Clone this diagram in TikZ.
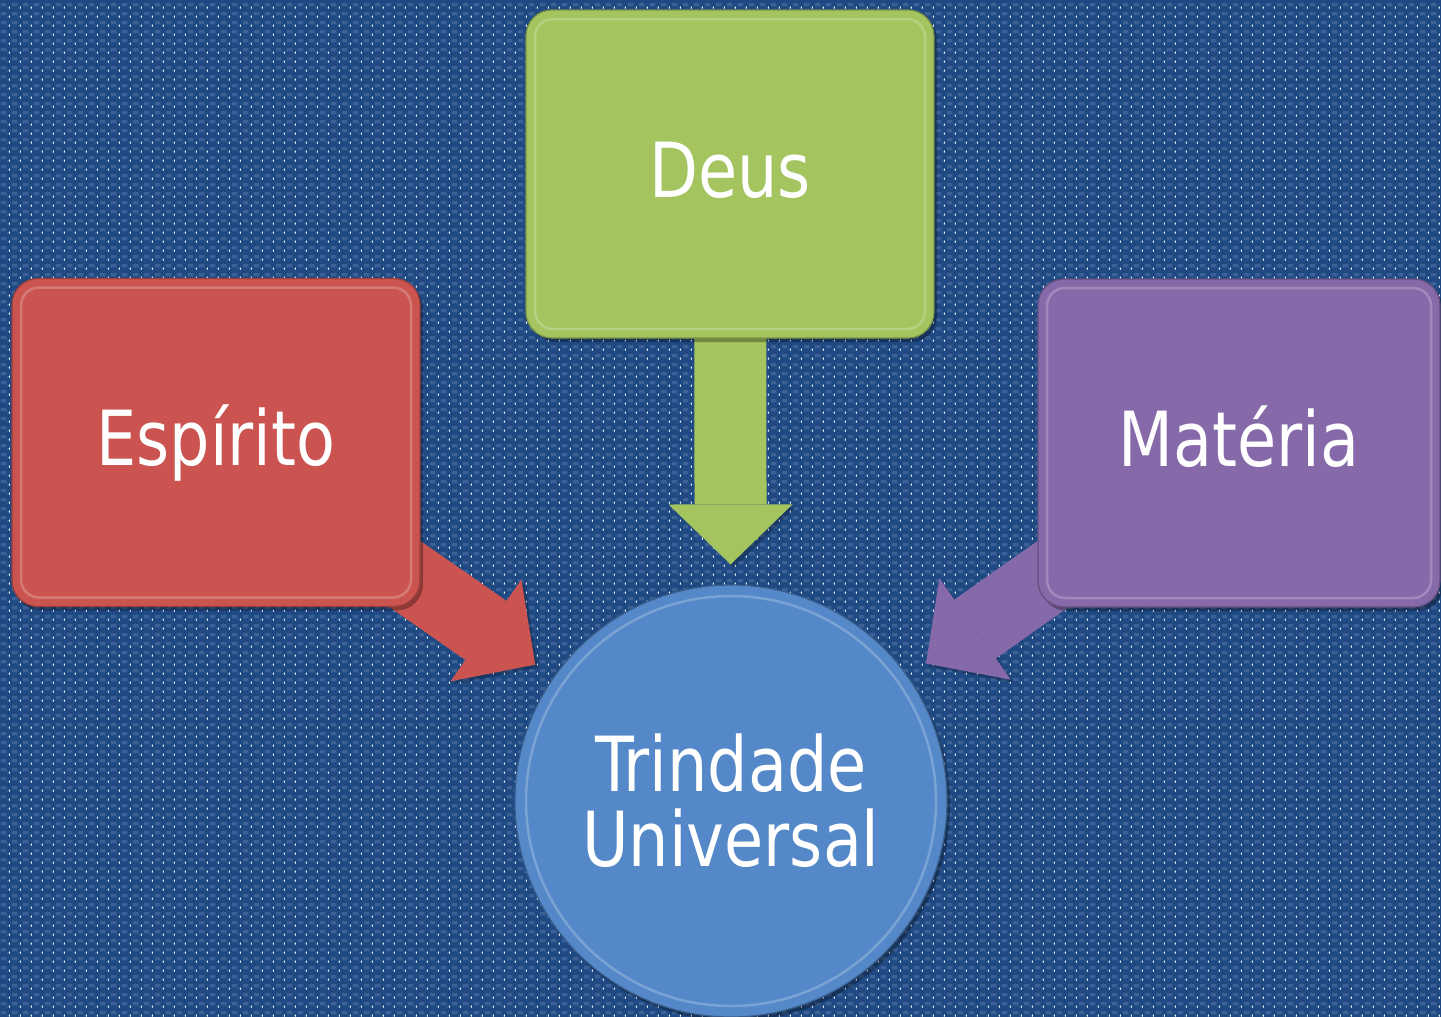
\documentclass[tikz,border=0pt]{standalone}
\usepackage{fontspec}
\setmainfont[FakeStretch=0.93]{DejaVu Sans Condensed}
\usetikzlibrary{arrows.meta,shadows,patterns.meta}
\definecolor{bgbase}{HTML}{1F4982}
\definecolor{bglight}{HTML}{3C6197}
\definecolor{redf}{HTML}{CB5450}
\definecolor{greenf}{HTML}{A3C45E}
\definecolor{purpf}{HTML}{8569A9}
\definecolor{bluef}{HTML}{5488C8}
\pgfdeclarelayer{back}
\pgfdeclarelayer{arrows}
\pgfsetlayers{back,arrows,main}
\pgfdeclarepattern{
  name=weave,
  type=colored,
  bottom left={\pgfpoint{0pt}{0pt}},
  top right={\pgfpoint{11pt}{9pt}},
  tile size={\pgfpoint{11pt}{9pt}},
  code={
    \pgfsetfillcolor{bglight}
    \pgfpathrectangle{\pgfpoint{2pt}{3pt}}{\pgfpoint{6pt}{3.5pt}}
    \pgfusepath{fill}
    \pgfpathrectangle{\pgfpoint{9.2pt}{0.5pt}}{\pgfpoint{1.6pt}{2pt}}
    \pgfusepath{fill}
  }
}
\newcommand{\bigfont}{\fontsize{76}{75}\selectfont}
\begin{document}
\begin{tikzpicture}[x=1pt,y=-1pt,
  box/.style={rounded corners=26pt, minimum width=408pt, minimum height=328pt,
    inner sep=0pt, text=white, font=\bigfont, text height=55pt, text depth=9pt,
    fill=#1, draw=#1!75!black, line width=1.2pt,
    drop shadow={shadow xshift=3pt, shadow yshift=-4pt, opacity=0.3, fill=black},
    path picture={\draw[#1!50!white, line width=2.5pt, rounded corners=18pt, opacity=0.45]
      ([shift={(9pt,-9pt)}]path picture bounding box.north west) rectangle
      ([shift={(-9pt,9pt)}]path picture bounding box.south east);}},
  circ/.style={circle, minimum size=432pt, inner sep=0pt, text=white, font=\bigfont,
    align=center, fill=bluef, draw=bluef!70!black, line width=1.2pt,
    drop shadow={shadow xshift=3pt, shadow yshift=-4pt, opacity=0.3, fill=black},
    path picture={\draw[bluef!50!white, line width=2.5pt, opacity=0.45]
      (path picture bounding box.center) circle[radius=205pt];}},
  bigarrow/.style={draw=#1, line width=72pt, line cap=butt,
    -{Triangle[length=60pt,width=124pt,line width=0pt]},
    preaction={draw=black, opacity=0.22, transform canvas={shift={(3pt,-3pt)}}}}
]
\begin{pgfonlayer}{back}
  \fill[bgbase] (0,0) rectangle (1441,1017);
  \fill[pattern=weave] (0,0) rectangle (1441,1017);
\end{pgfonlayer}
\useasboundingbox (0,0) rectangle (1441,1017);

\node[box=redf]   (esp)  at (216,442.5) {Espírito};
\node[box=greenf] (deus) at (730,174)   {Deus};
\node[box=purpf, minimum width=402pt] (mat) at (1239,443) {Matéria};
\node[circ] (tri) at (731,801) {Trindade\\Universal};

\begin{pgfonlayer}{arrows}
  \draw[bigarrow=greenf, shorten >=20pt] (deus.center) -- (tri);
  \draw[bigarrow=redf, shorten >=22pt] (esp.center) -- (tri);
  \draw[bigarrow=purpf, shorten >=22pt] (mat.center) -- (tri);
\end{pgfonlayer}
\end{tikzpicture}
\end{document}
